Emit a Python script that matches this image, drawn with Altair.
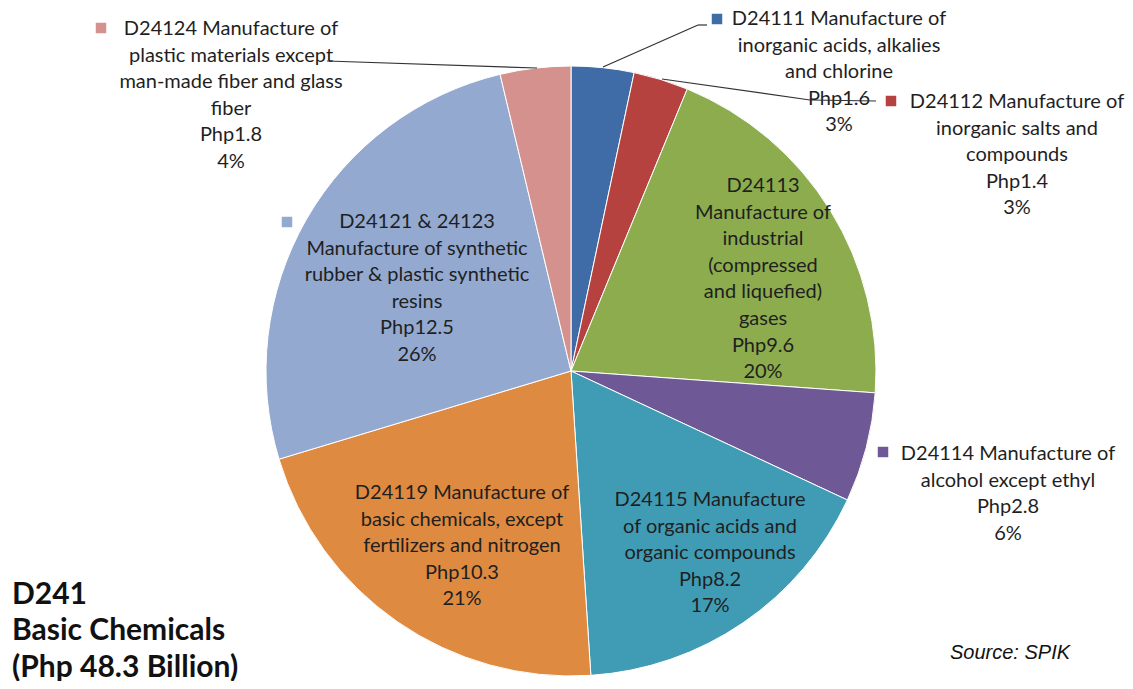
import altair as alt
import pandas as pd

# ---- data ----
codes = ["D24111", "D24112", "D24113", "D24114", "D24115", "D24119", "D24121 & 24123", "D24124"]
descriptions = [
    "D24111 Manufacture of\ninorganic acids, alkalies\nand chlorine",
    "D24112 Manufacture of\ninorganic salts and\ncompounds",
    "D24113\nManufacture of\nindustrial\n(compressed\nand liquefied)\ngases",
    "D24114 Manufacture of\nalcohol except ethyl",
    "D24115 Manufacture\nof organic acids and\norganic compounds",
    "D24119 Manufacture of\nbasic chemicals, except\nfertilizers and nitrogen",
    "D24121 & 24123\nManufacture of synthetic\nrubber  & plastic synthetic\nresins",
    "D24124 Manufacture of\nplastic materials except\nman-made  fiber and glass\nfiber",
]
values = [1.6, 1.4, 9.6, 2.8, 8.2, 10.3, 12.5, 1.8]
percents = [3, 3, 20, 6, 17, 21, 26, 4]
colors = ["#3F6CA7", "#B5423F", "#8CAC4D", "#6F5896", "#409CB5", "#DE8A40", "#93A9D0", "#D4918E"]
title_lines = ["D241", "Basic Chemicals", "(Php 48.3 Billion)"]
source_text = "Source: SPIK"

df = pd.DataFrame({
    "idx": list(range(len(codes))),
    "code": codes,
    "value": values,
    "label": [f"{d}\nPhp{v}\n{p}%" for d, v, p in zip(descriptions, values, percents)],
})

# ---- layout (chart pixel coordinates) ----
W, H = 1117, 673
CX, CY, R = 563, 363, 305
FONT = "Lato"
FS = 20
LH = 26.6
# label block: (center x, first-line center y) in page px; square marker position or None
label_pos = [(839, 19), (1017, 102), (763, 186), (1008, 454), (710, 500), (462, 493), (417, 222), (231, 29)]
square_pos = [(717, 19), (891, 101), None, (883, 452), None, None, (287, 222), (101, 28)]
leaders = [((707, 25), (698, 25)), ((698, 25), (603, 67)),
           ((662, 79), (810, 100)), ((810, 100), (876, 101)),
           ((327, 61), (537, 68))]
M = 8  # page margin

color_scale = alt.Scale(domain=codes, range=colors)
base = alt.Chart(df)

pie = base.mark_arc(outerRadius=R, stroke="white", strokeWidth=1).encode(
    theta=alt.Theta("value:Q", stack=True),
    color=alt.Color("code:N", scale=color_scale, legend=None),
    order=alt.Order("idx:Q"),
    x=alt.value(CX),
    y=alt.value(CY),
)

layers = [pie]
for i, (lx, ly) in enumerate(label_pos):
    layers.append(
        base.transform_filter(alt.datum.idx == i).mark_text(
            align="center", baseline="top", lineBreak="\n", lineHeight=LH,
            font=FONT, fontSize=FS, color="#1f1f1f",
        ).encode(
            text="label:N",
            x=alt.value(lx - M),
            y=alt.value(ly - M - 0.5 * FS),
        )
    )
    if square_pos[i] is not None:
        sx, sy = square_pos[i]
        layers.append(
            base.transform_filter(alt.datum.idx == i).mark_square(
                size=110, opacity=1, filled=True,
            ).encode(
                color=alt.Color("code:N", scale=color_scale, legend=None),
                x=alt.value(sx - M),
                y=alt.value(sy - M),
            )
        )

for (x1, y1), (x2, y2) in leaders:
    layers.append(
        alt.Chart(df).transform_filter(alt.datum.idx == 0).mark_rule(color="#333333", strokeWidth=1.2).encode(
            x=alt.value(x1 - M), y=alt.value(y1 - M), x2=alt.value(x2 - M), y2=alt.value(y2 - M)
        )
    )

title_df = pd.DataFrame({"t": ["\n".join(title_lines)]})
title = alt.Chart(title_df).mark_text(
    align="left", baseline="top", lineBreak="\n", lineHeight=36.5,
    font=FONT, fontSize=30, fontWeight="bold", color="#111111",
).encode(text="t:N", x=alt.value(12 - M), y=alt.value(595 - M - 15.5))

src_df = pd.DataFrame({"t": [source_text]})
source = alt.Chart(src_df).mark_text(
    align="left", baseline="middle", font="Liberation Sans", fontSize=20,
    fontStyle="italic", color="#111111",
).encode(text="t:N", x=alt.value(950 - M), y=alt.value(653 - M))

chart = alt.layer(*layers, title, source).properties(
    width=W, height=H, padding=0,
    autosize=alt.AutoSizeParams(type="none"),
).configure_view(stroke=None)

chart.save("out.html", embed_options={"renderer": "svg", "actions": False})
